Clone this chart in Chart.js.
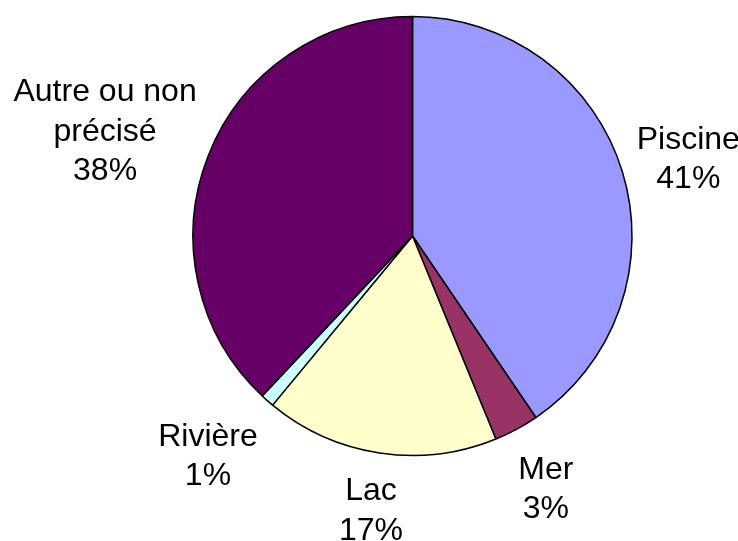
<!DOCTYPE html>
<html>
<head>
<meta charset="utf-8">
<script src="https://cdn.jsdelivr.net/npm/chart.js@4/dist/chart.umd.min.js"></script>
<style>
    html, body { margin: 0; padding: 0; background: #ffffff; }
    #chart { display: block; }
</style>
</head>
<body>
<canvas id="chart" width="738" height="541"></canvas>
<script>
// Données du graphique (lieux de noyade)
const categories = ['Piscine', 'Mer', 'Lac', 'Rivière', 'Autre ou non précisé'];
const labelLines = [['Piscine'], ['Mer'], ['Lac'], ['Rivière'], ['Autre ou non', 'précisé']];
const values = [40.5, 3.3, 17.2, 1.0, 38.0];
const colors = ['#9999FF', '#993366', '#FFFFCC', '#CCFFFF', '#660066'];

// Distance supplémentaire entre le bord du camembert et chaque étiquette
const labelGaps = [17.5, 34.5, 25, 40, 19.5];

const FONT_SIZE = 32;
const LINE_HEIGHT = 39.5;
const FONT = FONT_SIZE + 'px "Liberation Sans", Arial, sans-serif';

// Plugin pour dessiner les étiquettes à l'extérieur des parts
const outsideLabels = {
    id: 'outsideLabels',
    afterDatasetsDraw(chart) {
        const ctx = chart.ctx;
        const meta = chart.getDatasetMeta(0);
        const total = values.reduce((a, b) => a + b, 0);
        ctx.save();
        ctx.font = FONT;
        ctx.fillStyle = '#000000';
        ctx.textAlign = 'center';
        ctx.textBaseline = 'alphabetic';
        meta.data.forEach((arc, i) => {
            const p = arc.getProps(['x', 'y', 'startAngle', 'endAngle', 'outerRadius'], true);
            const mid = (p.startAngle + p.endAngle) / 2;
            const dx = Math.cos(mid);
            const dy = Math.sin(mid);
            const lines = labelLines[i].concat([Math.round(values[i] / total * 100) + '%']);
            const w = Math.max(...lines.map(l => ctx.measureText(l).width));
            const cap = FONT_SIZE * 0.716;
            const h = (lines.length - 1) * LINE_HEIGHT + cap;
            const a = w / 2;
            const b = h / 2;
            const dist = p.outerRadius + labelGaps[i];
            const cx = p.x + dx * dist + dx * a;
            const cy = p.y + dy * dist + dy * b;
            lines.forEach((line, j) => {
                ctx.fillText(line, cx, cy - b + cap + j * LINE_HEIGHT);
            });
        });
        ctx.restore();
    }
};

const CONTEXT = document.getElementById('chart').getContext('2d');
const CHART = new Chart(CONTEXT, {
    type: 'pie',
    data: {
        labels: categories,
        datasets: [{
            data: values,
            backgroundColor: colors,
            borderColor: '#000000',
            borderWidth: 1.5,
            hoverOffset: 0
        }]
    },
    options: {
        responsive: false,
        animation: false,
        devicePixelRatio: 1,
        radius: 219.5,
        layout: {
            padding: { left: 87, right: 0, top: 0, bottom: 69 }
        },
        plugins: {
            legend: { display: false },
            tooltip: { enabled: false }
        }
    },
    plugins: [outsideLabels]
});
</script>
</body>
</html>
